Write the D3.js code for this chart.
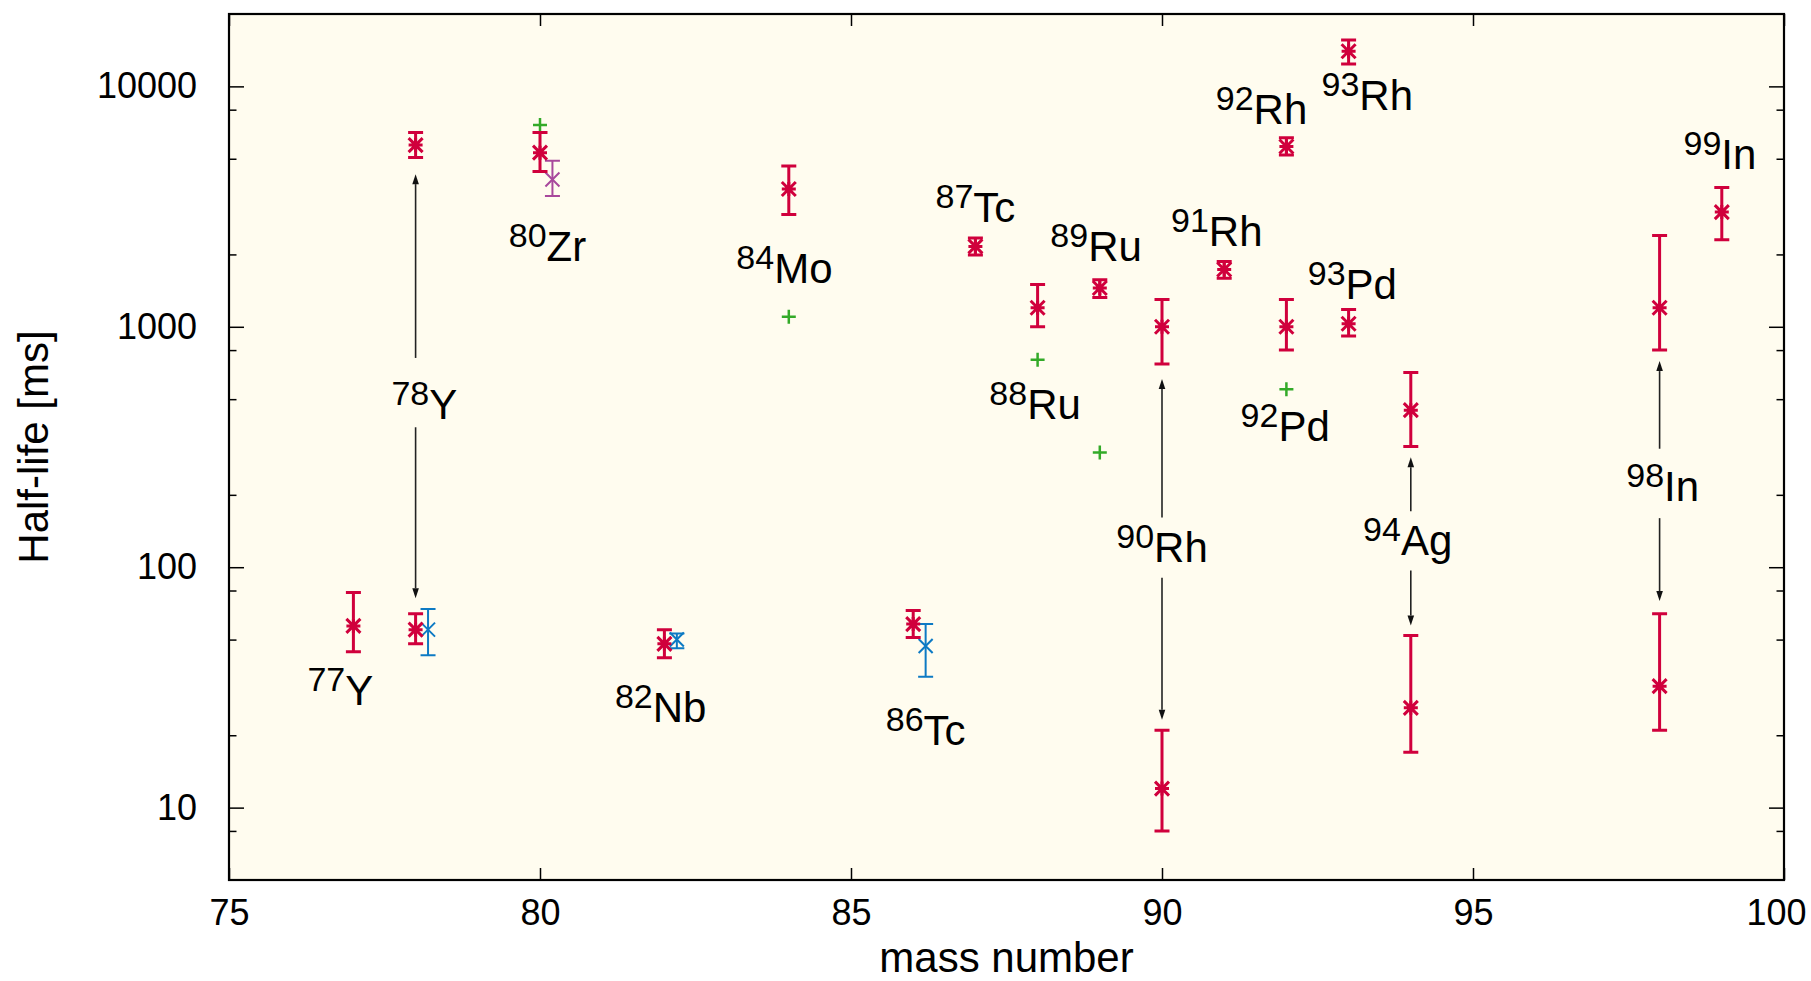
<!DOCTYPE html>
<html>
<head>
<meta charset="utf-8">
<script src="https://cdn.jsdelivr.net/npm/d3@7"></script>
<style>
  html, body { margin: 0; padding: 0; background: #ffffff; }
  svg { display: block; font-family: "Liberation Sans", Arial, Helvetica, sans-serif; }
</style>
</head>
<body>
<svg id="chart" width="1811" height="981"></svg>
<script>
// Measured half-lives [ms] with asymmetric uncertainties (lower / upper bound)
const expMass  = [77, 78, 78, 80, 82, 84, 86, 87, 88, 89, 90, 90, 91, 92, 92, 93, 93, 94, 94, 98, 98, 99];
const expValue = [57, 55, 5700, 5300, 48, 3740, 58, 2160, 1200, 1450, 1000, 12, 1730, 1000, 5620, 1030, 14000, 450, 26, 1200, 32, 3000];
const expLow   = [44.5, 48, 5060, 4420, 42, 2930, 51, 1990, 1000, 1325, 700, 8, 1590, 800, 5180, 915, 12400, 318, 17, 800, 21, 2300];
const expHigh  = [78.5, 64, 6430, 6430, 55, 4670, 66, 2340, 1500, 1570, 1300, 21, 1870, 1300, 6120, 1180, 15600, 646, 52, 2400, 64, 3800];

// Earlier measurements (plotted slightly to the right of the mass number)
const prevMass  = [78.2, 82.2, 86.2];
const prevValue = [55, 50, 47];
const prevLow   = [43, 46, 35];
const prevHigh  = [67, 53, 58];

// Earlier 80Zr value
const zrMass  = [80.2];
const zrValue = [4100];
const zrLow   = [3500];
const zrHigh  = [4900];

// Calculated half-lives
const calcMass  = [80, 84, 88, 89, 92];
const calcValue = [6900, 1100, 730, 300, 550];

// Nuclide labels: mass number, element, anchor (mass, half-life)
const labelA     = ["77", "78", "80", "82", "84", "86", "87", "88", "89", "90", "91", "92", "93", "92", "93", "94", "98", "99"];
const labelSym   = ["Y", "Y", "Zr", "Nb", "Mo", "Tc", "Tc", "Ru", "Ru", "Rh", "Rh", "Rh", "Rh", "Pd", "Pd", "Ag", "In", "In"];
const labelMass  = [76.79, 78.14, 80.12, 81.94, 83.93, 86.2, 87.0, 87.96, 88.94, 90.0, 90.88, 91.6, 93.3, 91.98, 93.06, 93.95, 98.05, 98.97];
const labelValue = [26.6, 415, 1882, 22.7, 1525, 18.3, 2716, 414, 1870, 105, 2174, 7004, 7963, 334, 1305, 112, 189, 4529];

// Arrows from a label towards the ground state / isomer it refers to
const arrowMass = [78, 78, 90, 90, 94, 94, 98, 98];
const arrowFrom = [742, 382, 161, 90.3, 171, 96.9, 311, 160];
const arrowTo   = [4315, 74.3, 607, 23.2, 287, 57.2, 720, 72.3];

// Axis ticks
const xTicks = [75, 80, 85, 90, 95, 100];
const yTicks = [10, 100, 1000, 10000];
const yMinorTicks = [8, 20, 50, 80, 200, 500, 800, 2000, 5000, 8000];

const colExp = "#d0003c", colPrev = "#0d7ac4", colZr = "#a8489c", colCalc = "#33aa28";

const svg = d3.select("#chart");
const W = 1811, H = 981;
const m = { left: 229, right: 27, top: 14, bottom: 101 };
const x = d3.scaleLinear().domain([75, 100]).range([m.left, W - m.right]);
const y = d3.scaleLog().domain([5, 20000]).range([H - m.bottom, m.top]);
const x0 = m.left, x1 = W - m.right, y0 = H - m.bottom, y1 = m.top;

svg.append("rect").attr("width", W).attr("height", H).attr("fill", "#ffffff");
svg.append("rect").attr("x", x0).attr("y", y1).attr("width", x1 - x0).attr("height", y0 - y1)
  .attr("fill", "#fffcef");

function styleAxis(g, labels) {
  g.select(".domain").remove();
  g.selectAll(".tick line").attr("stroke", "#000").attr("stroke-width", 1.5);
  g.selectAll(".tick text").attr("fill", "#000").attr("font-size", 36)
    .attr("font-family", "\"Liberation Sans\", Arial, Helvetica, sans-serif");
  if (!labels) g.selectAll(".tick text").remove();
}

// x axis (bottom with labels, mirrored ticks on top)
svg.append("g").attr("transform", `translate(0,${y0})`)
  .call(d3.axisBottom(x).tickValues(xTicks).tickSize(-12).tickPadding(19).tickFormat(d3.format("d")))
  .call(g => styleAxis(g, true))
  .call(g => g.selectAll(".tick text").filter(d => d === 100).attr("dx", -8));
svg.append("g").attr("transform", `translate(0,${y1})`)
  .call(d3.axisTop(x).tickValues(xTicks).tickSize(-12))
  .call(g => styleAxis(g, false));

// y axis (left with labels, mirrored on the right), plus minor ticks
svg.append("g").attr("transform", `translate(${x0},0)`)
  .call(d3.axisLeft(y).tickValues(yTicks).tickSize(-15).tickPadding(32).tickFormat(d3.format("d")))
  .call(g => styleAxis(g, true));
svg.append("g").attr("transform", `translate(${x1},0)`)
  .call(d3.axisRight(y).tickValues(yTicks).tickSize(-15))
  .call(g => styleAxis(g, false));
svg.append("g").attr("transform", `translate(${x0},0)`)
  .call(d3.axisLeft(y).tickValues(yMinorTicks).tickSize(-7.5).tickFormat(""))
  .call(g => styleAxis(g, false));
svg.append("g").attr("transform", `translate(${x1},0)`)
  .call(d3.axisRight(y).tickValues(yMinorTicks).tickSize(-7.5).tickFormat(""))
  .call(g => styleAxis(g, false));

// Axis titles
svg.append("text").attr("x", (x0 + x1) / 2).attr("y", 972).attr("text-anchor", "middle")
  .attr("font-size", 42).attr("fill", "#000").text("mass number");
svg.append("text").attr("transform", `translate(48,${(y0 + y1) / 2}) rotate(-90)`)
  .attr("text-anchor", "middle").attr("font-size", 42).attr("fill", "#000").text("Half-life [ms]");

const plot = svg.append("g");

// Error bars with end caps
function errorBars(mass, low, high, color, width, cap) {
  const idx = d3.range(mass.length);
  const g = plot.append("g").attr("stroke", color).attr("stroke-width", width).attr("fill", "none");
  g.selectAll("path").data(idx).join("path")
    .attr("d", i => {
      const cx = x(mass[i]), yl = y(low[i]), yh = y(high[i]);
      return `M${cx},${yl}V${yh}M${cx - cap},${yl}H${cx + cap}M${cx - cap},${yh}H${cx + cap}`;
    });
}

// Point symbols: "star" = plus and cross, "cross" = x, "plus" = +
function points(mass, value, color, width, shape, s) {
  const idx = d3.range(mass.length);
  const g = plot.append("g").attr("stroke", color).attr("stroke-width", width).attr("fill", "none");
  g.selectAll("path").data(idx).join("path")
    .attr("d", i => {
      const cx = x(mass[i]), cy = y(value[i]);
      const plus = `M${cx - s},${cy}H${cx + s}M${cx},${cy - s}V${cy + s}`;
      const cross = `M${cx - s},${cy - s}L${cx + s},${cy + s}M${cx - s},${cy + s}L${cx + s},${cy - s}`;
      return shape === "star" ? plus + cross : shape === "cross" ? cross : plus;
    });
}

points(calcMass, calcValue, colCalc, 2.5, "plus", 7);
errorBars(zrMass, zrLow, zrHigh, colZr, 2, 7.5);
points(zrMass, zrValue, colZr, 2, "cross", 7);
errorBars(prevMass, prevLow, prevHigh, colPrev, 2, 7.5);
points(prevMass, prevValue, colPrev, 2, "cross", 7);
errorBars(expMass, expLow, expHigh, colExp, 3, 7.5);
points(expMass, expValue, colExp, 3, "star", 7);

// Arrows
const arrows = plot.append("g");
d3.range(arrowMass.length).forEach(i => {
  const cx = x(arrowMass[i]), ya = y(arrowFrom[i]), yb = y(arrowTo[i]);
  const dir = yb < ya ? -1 : 1, len = 10, hw = 3.3;
  arrows.append("path")
    .attr("d", `M${cx},${ya}V${yb - dir * len}`)
    .attr("stroke", "#222").attr("stroke-width", 1.6).attr("fill", "none");
  arrows.append("path")
    .attr("d", `M${cx},${yb}L${cx - hw},${yb - dir * len}L${cx + hw},${yb - dir * len}Z`)
    .attr("fill", "#111");
});

// Nuclide labels with superscript mass number
const labels = plot.append("g").attr("fill", "#000");
d3.range(labelA.length).forEach(i => {
  const t = labels.append("text")
    .attr("x", x(labelMass[i])).attr("y", y(labelValue[i]))
    .attr("text-anchor", "middle");
  t.append("tspan").attr("font-size", 34).attr("dy", -14).text(labelA[i]);
  t.append("tspan").attr("font-size", 42).attr("dy", 14).text(labelSym[i]);
});

// Frame
svg.append("rect").attr("x", x0).attr("y", y1).attr("width", x1 - x0).attr("height", y0 - y1)
  .attr("fill", "none").attr("stroke", "#000").attr("stroke-width", 2.2);
</script>
</body>
</html>
